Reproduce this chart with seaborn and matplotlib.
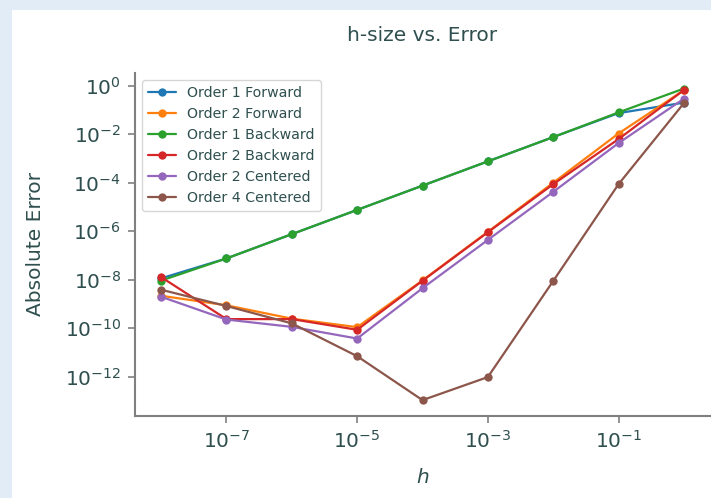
import matplotlib
matplotlib.use("Agg")
import matplotlib.pyplot as plt
import matplotlib.patches as mpatches
import seaborn as sns
import numpy as np

h_values = [1e-8, 1e-7, 1e-6, 1e-5, 1e-4, 1e-3, 1e-2, 1e-1, 1e0]

order1_forward = [1.15e-8, 7.6e-8, 7.6e-7, 7.6e-6, 7.6e-5, 7.6e-4, 7.6e-3, 7.4e-2, 0.20]
order2_forward = [2.2e-9, 8.9e-10, 2.5e-10, 1.12e-10, 9.5e-9, 9.5e-7, 1.0e-4, 1.07e-2, 0.65]
order1_backward = [9.3e-9, 7.6e-8, 7.6e-7, 7.6e-6, 7.6e-5, 7.6e-4, 7.6e-3, 7.9e-2, 0.76]
order2_backward = [1.29e-8, 2.4e-10, 2.4e-10, 8.7e-11, 9.1e-9, 9.1e-7, 8.7e-5, 6.3e-3, 0.66]
order2_centered = [2.0e-9, 2.3e-10, 1.15e-10, 3.8e-11, 4.5e-9, 4.4e-7, 4.2e-5, 4.3e-3, 0.29]
order4_centered = [3.9e-9, 8.3e-10, 1.6e-10, 7.1e-12, 1.1e-13, 9.8e-13, 8.9e-9, 8.7e-5, 0.19]

series_names = ["Order 1 Forward", "Order 2 Forward", "Order 1 Backward",
                "Order 2 Backward", "Order 2 Centered", "Order 4 Centered"]
series_values = [order1_forward, order2_forward, order1_backward,
                 order2_backward, order2_centered, order4_centered]

x_ticks = [1e-7, 1e-5, 1e-3, 1e-1]
y_ticks = [1e0, 1e-2, 1e-4, 1e-6, 1e-8, 1e-10, 1e-12]

sns.set_theme(style="ticks")
text_color = "#2f4f4f"
spine_color = "#808080"
plt.rcParams["font.family"] = ["DejaVu Sans"]
plt.rcParams["text.color"] = text_color
plt.rcParams["axes.labelcolor"] = text_color
plt.rcParams["xtick.color"] = spine_color
plt.rcParams["ytick.color"] = spine_color
plt.rcParams["xtick.labelcolor"] = text_color
plt.rcParams["ytick.labelcolor"] = text_color

fig = plt.figure(figsize=(7.11, 4.98), dpi=100, facecolor="#e1ecf7")
fig.patches.append(mpatches.Rectangle((12 / 711, 0), 1 - 12 / 711, 1 - 10 / 498,
                                      transform=fig.transFigure, facecolor="white",
                                      edgecolor="none", zorder=-5))
ax = fig.add_axes([135 / 711, 1 - 415.7 / 498, (710 - 135) / 711, (415.7 - 73) / 498])
ax.set_facecolor("white")
ax.set_zorder(1)

palette = sns.color_palette("tab10", 6)
for name, vals, col in zip(series_names, series_values, palette):
    sns.lineplot(x=h_values, y=vals, ax=ax, label=name, color=col, marker="o",
                 markersize=6, markeredgewidth=0, linewidth=1.6)

ax.set_xscale("log")
ax.set_yscale("log")
ax.set_xticks(x_ticks)
ax.set_yticks(y_ticks)
ax.minorticks_off()
ax.tick_params(axis="both", labelsize=14.5, length=5, width=1.2, pad=5)

sns.despine(ax=ax)
for s in ["left", "bottom"]:
    ax.spines[s].set_color(spine_color)
    ax.spines[s].set_linewidth(1.5)

ax.set_title("h-size vs. Error", fontsize=14.5, color=text_color, pad=23)
ax.set_xlabel("$h$", fontsize=14.5, labelpad=12)
ax.set_ylabel("Absolute Error", fontsize=14.5, labelpad=14)

leg = ax.legend(loc="upper left", fontsize=10.2, frameon=True, fancybox=True)
leg.get_frame().set_edgecolor("#cccccc")
for t in leg.get_texts():
    t.set_color(text_color)

fig.savefig("out.png", dpi=100, facecolor=fig.get_facecolor())
